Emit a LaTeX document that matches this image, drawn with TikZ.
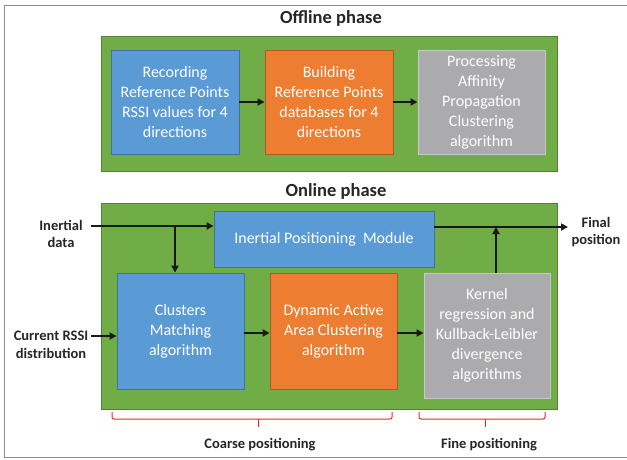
\documentclass[tikz,border=0pt]{standalone}
\usepackage{fontspec}
\setmainfont{Carlito}
\usepackage{tikz}
\usetikzlibrary{arrows.meta}

\definecolor{phasegreen}{HTML}{70AD47}
\definecolor{phasegreenline}{HTML}{548235}
\definecolor{boxblue}{HTML}{5B9BD5}
\definecolor{boxblueline}{HTML}{41719C}
\definecolor{boxorange}{HTML}{ED7D31}
\definecolor{boxorangeline}{HTML}{AE5A21}
\definecolor{boxgray}{HTML}{ABABAD}
\definecolor{boxgrayline}{HTML}{C8C8C8}
\definecolor{bracered}{HTML}{FF2020}

\tikzset{
  phase/.style={draw=phasegreenline, fill=phasegreen, line width=0.8pt, inner sep=0pt},
  stepblock/.style={line width=0.9pt, text=white, align=center, inner sep=2pt,
    font=\fontsize{16}{20}\selectfont},
  blueblock/.style={stepblock, draw=boxblueline, fill=boxblue},
  orangeblock/.style={stepblock, draw=boxorangeline, fill=boxorange},
  grayblock/.style={stepblock, draw=boxgrayline, fill=boxgray},
  phasetitle/.style={font=\fontsize{18.5}{20}\selectfont\bfseries, text=black!85},
  sidelabel/.style={font=\fontsize{14.5}{17.5}\selectfont\bfseries, text=black!85, align=center},
  flow/.style={-{Triangle[length=7pt,width=7pt]}, line width=1.8pt, black!90},
  bracket/.style={bracered, line width=1pt, rounded corners=2pt}
}

\begin{document}
\begin{tikzpicture}[x=1pt, y=-1pt]
            \useasboundingbox (0,0) rectangle (627,459);
            \draw[black!45, line width=0.8pt] (4,5) rectangle (700,457);

            % Offline phase
            \node[phasetitle] (offtitle) at (331, 18) {Offline phase};
            \node[phase, minimum width=456pt, minimum height=135pt] (offline) at (329, 103.5) {};
            \node[blueblock, minimum width=128pt, minimum height=104pt] (record) at (175, 102) {Recording\\Reference Points\\RSSI values for 4\\directions};
            \node[orangeblock, minimum width=128pt, minimum height=104pt] (build) at (329, 102) {Building\\Reference Points\\databases for 4\\directions};
            \node[grayblock, minimum width=127pt, minimum height=104pt] (affinity) at (481.5, 102) {Processing\\Affinity\\Propagation\\Clustering\\algorithm};
            \draw[flow] (record) -- (build);
            \draw[flow] (build) -- (affinity);

            % Online phase
            \node[phasetitle] (ontitle) at (336, 191) {Online phase};
            \node[phase, minimum width=456pt, minimum height=206pt] (online) at (329, 306) {};
            \node[blueblock, minimum width=220pt, minimum height=56pt] (ipm) at (324, 239) {Inertial Positioning\ \ Module};
            \node[blueblock, minimum width=127pt, minimum height=116pt] (clusters) at (180.5, 331) {Clusters\\Matching\\algorithm};
            \node[orangeblock, minimum width=127pt, minimum height=116pt] (daac) at (333.5, 331) {Dynamic Active\\Area Clustering\\algorithm};
            \node[grayblock, minimum width=126pt, minimum height=125pt] (kernel) at (487, 335.5) {Kernel\\regression and\\Kullback-Leibler\\divergence\\algorithms};

            \node[sidelabel] (inertial) at (61, 234) {Inertial\\data};
            \node[sidelabel] (rssi) at (51, 345) {Current RSSI\\distribution};
            \node[sidelabel] (final) at (596, 232) {Final\\position};

            \coordinate (inertialout) at (91, 226);
            \coordinate (split) at (175, 226);
            \coordinate (rssiout) at (91, 336);
            \coordinate (finalin) at (568, 227);
            \draw[flow] (inertialout) -- (inertialout -| ipm.west);
            \draw[flow] (split) -- (split |- clusters.north);
            \draw[flow] (rssiout) -- (rssiout -| clusters.west);
            \draw[flow] (clusters.east |- 0,333) -- (daac.west |- 0,333);
            \draw[flow] (daac.east |- 0,333) -- (kernel.west |- 0,333);
            \draw[flow] (ipm.east |- finalin) -- (finalin);
            \draw[flow] (kernel.north -| 496,0) -- (496,227);

            % brackets
            \draw[bracket] (112,412) -- (112,419) -- (392,419) -- (392,412);
            \draw[bracket] (258,419) -- (258,427);
            \draw[bracket] (419,412) -- (419,419) -- (545,419) -- (545,412);
            \draw[bracket] (485,419) -- (485,427);
            \node[sidelabel] (coarse) at (260, 445) {Coarse positioning};
            \node[sidelabel] (fine) at (489, 445) {Fine positioning};
\end{tikzpicture}
\end{document}
